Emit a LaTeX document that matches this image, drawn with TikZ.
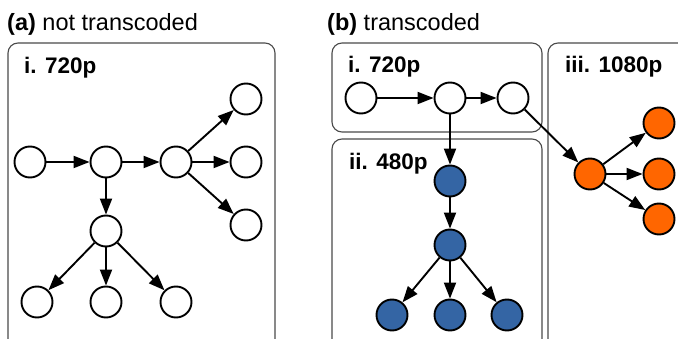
\documentclass[tikz,border=0pt]{standalone}
\usepackage{fontspec}
\setmainfont{Liberation Sans}
\usetikzlibrary{arrows.meta}
\definecolor{nodeblue}{HTML}{3465A4}
\definecolor{nodeorange}{HTML}{FF6600}
\definecolor{boxgray}{HTML}{4A4A4A}
\tikzset{
  vid/.style={circle,draw=black,line width=1.9pt,minimum size=31pt,inner sep=0pt,fill=white},
  blue/.style={vid,fill=nodeblue},
  orange/.style={vid,fill=nodeorange},
  edge/.style={line width=1.9pt,-{Triangle[length=16pt,width=12pt]}},
  panel/.style={draw=boxgray,line width=1.1pt,rounded corners=10pt},
  heading/.style={anchor=base west,inner sep=0pt,font=\fontsize{23.5}{26}\selectfont},
  boxlabel/.style={anchor=base west,inner sep=0pt,font=\fontsize{22.5}{26}\selectfont\bfseries}
}
\begin{document}
\begin{tikzpicture}[x=1pt,y=-1pt]
\useasboundingbox (0,0) rectangle (678,339);
\clip (0,0) rectangle (678,339);

% panel frames
\draw[panel] (8,43) rectangle (275,370);
\draw[panel] (332,43) rectangle (542,132);
\draw[panel] (332,139) rectangle (542,370);
\draw[panel] (548,43) rectangle (720,370);

% headings
\node[heading] (ha) at (7,31) {\textbf{(a)} not transcoded};
\node[heading] (hb) at (327,31) {\textbf{(b)} transcoded};
\node[boxlabel] (la) at (24,74) {i. 720p};
\node[boxlabel] (lb1) at (348,73) {i. 720p};
\node[boxlabel] (lb2) at (349,170) {ii. 480p};
\node[boxlabel] (lb3) at (565,73) {iii. 1080p};

% (a) single 720p graph
\node[vid] (a1) at (30,162) {};
\node[vid] (a2) at (106,162) {};
\node[vid] (a3) at (176,162) {};
\node[vid] (a4) at (246,99) {};
\node[vid] (a5) at (246,162) {};
\node[vid] (a6) at (246,225) {};
\node[vid] (a7) at (106,231) {};
\node[vid] (a8) at (37,302) {};
\node[vid] (a9) at (106,302) {};
\node[vid] (a10) at (176,302) {};
\draw[edge] (a1) -- (a2);
\draw[edge] (a2) -- (a3);
\draw[edge] (a3) -- (a4);
\draw[edge] (a3) -- (a5);
\draw[edge] (a3) -- (a6);
\draw[edge] (a2) -- (a7);
\draw[edge] (a7) -- (a8);
\draw[edge] (a7) -- (a9);
\draw[edge] (a7) -- (a10);

% (b) transcoded graph
\node[vid] (b1) at (361,98) {};
\node[vid] (b2) at (450,98) {};
\node[vid] (b3) at (513,98) {};
\node[blue] (c1) at (450,181) {};
\node[blue] (c2) at (450,245) {};
\node[blue] (c3) at (392,315) {};
\node[blue] (c4) at (450,315) {};
\node[blue] (c5) at (507,315) {};
\node[orange] (d1) at (590,174) {};
\node[orange] (d2) at (659,123) {};
\node[orange] (d3) at (659,174) {};
\node[orange] (d4) at (659,219) {};
\draw[edge] (b1) -- (b2);
\draw[edge] (b2) -- (b3);
\draw[edge] (b2) -- (c1);
\draw[edge] (c1) -- (c2);
\draw[edge] (c2) -- (c3);
\draw[edge] (c2) -- (c4);
\draw[edge] (c2) -- (c5);
\draw[edge] (b3) -- (d1);
\draw[edge] (d1) -- (d2);
\draw[edge] (d1) -- (d3);
\draw[edge] (d1) -- (d4);
\end{tikzpicture}
\end{document}
